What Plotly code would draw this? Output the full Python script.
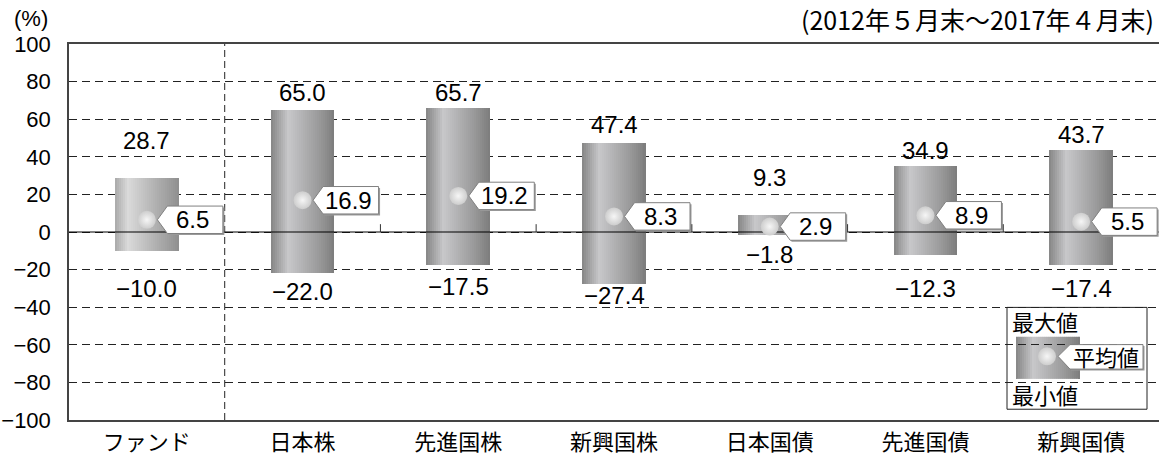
import plotly.graph_objects as go
import numpy as np

# ---------------- data ----------------
categories = ["ファンド", "日本株", "先進国株", "新興国株", "日本国債", "先進国債", "新興国債"]
max_vals = [28.7, 65.0, 65.7, 47.4, 9.3, 34.9, 43.7]
min_vals = [-10.0, -22.0, -17.5, -27.4, -1.8, -12.3, -17.4]
avg_vals = [6.5, 16.9, 19.2, 8.3, 2.9, 8.9, 5.5]
y_ticks = [-100, -80, -60, -40, -20, 0, 20, 40, 60, 80, 100]

# ---------------- style ----------------
W, H = 1159, 456
ML, MR, MT, MB = 69, 0, 44, 28
PW, PH = W - ML - MR, H - MT - MB
XR = [-0.5, 6.5]
YR = [-100, 100]
DX = (XR[1] - XR[0]) / PW      # data units per pixel (x)
DY = (YR[1] - YR[0]) / PH      # data units per pixel (y)

NUM_FONT = "Liberation Sans Narrow, Arial Narrow, Liberation Sans, sans-serif"
JP_FONT = "Noto Sans CJK JP, sans-serif"

BAR_W = 0.41
NSL = 32
# label pixel offsets (style only)
max_shift = [38, 17, 16, 18, 37, 16, 15]
min_shift = [38, 18, 22, 12, 19, 33, 24]

def interp_color(stops, t):
    for (t0, c0), (t1, c1) in zip(stops[:-1], stops[1:]):
        if t0 <= t <= t1:
            f = (t - t0) / (t1 - t0) if t1 > t0 else 0
            return tuple(int(round(a + (b - a) * f)) for a, b in zip(c0, c1))
    return stops[-1][1]

def hexrgb(h):
    h = h.lstrip("#")
    return tuple(int(h[i:i + 2], 16) for i in (0, 2, 4))

main_stops = [(0.0, hexrgb("#858585")), (0.27, hexrgb("#c8c8ca")), (0.75, hexrgb("#9a9a9a")), (1.0, hexrgb("#7c7c7c"))]
fund_stops = [(0.0, hexrgb("#a9a9a9")), (0.2, hexrgb("#dadada")), (0.75, hexrgb("#a6a6a6")), (1.0, hexrgb("#8f8f8f"))]

def rgb(c):
    return "rgb(%d,%d,%d)" % c

fig = go.Figure()
xs = list(range(len(categories)))
heights = [mx - mn for mx, mn in zip(max_vals, min_vals)]

# gradient bars built from thin slices
for j in range(NSL):
    t = (j + 0.5) / NSL
    cols = [rgb(interp_color(fund_stops if i == 0 else main_stops, t)) for i in xs]
    fig.add_trace(go.Bar(
        x=xs, y=heights, base=min_vals,
        width=BAR_W / NSL * 1.15 if j < NSL - 1 else BAR_W / NSL,
        offset=-BAR_W / 2 + j * BAR_W / NSL,
        marker=dict(color=cols, line=dict(width=0)),
        hoverinfo="skip", showlegend=False))

# zero line (above bars)
fig.add_trace(go.Scatter(x=XR, y=[0, 0], mode="lines",
                         line=dict(color="black", width=1.2),
                         hoverinfo="skip", showlegend=False))

# mean markers
fig.add_trace(go.Scatter(
    x=xs, y=avg_vals, mode="markers",
    marker=dict(size=18, color="#cdcdcd", line=dict(width=0),
                gradient=dict(type="radial", color="#f6f6f6")),
    hoverinfo="skip", showlegend=False, cliponaxis=False))

shapes = []
annotations = []

# callouts
for i, m in zip(xs, avg_vals):
    tip = i + 10.5 * DX
    base = i + 20.5 * DX
    right = i + 76 * DX
    hh = 14 * DY
    sx, sy = 1.5 * DX, 1.5 * DY
    spath = (f"M{tip + sx},{m - sy} L{base + sx},{m + hh - sy} L{right + sx},{m + hh - sy} "
             f"L{right + sx},{m - hh - sy} L{base + sx},{m - hh - sy} Z")
    shapes.append(dict(type="path", path=spath, xref="x", yref="y",
                       fillcolor="#9a9a9a", line=dict(width=0), layer="above"))
    path = (f"M{tip},{m} L{base},{m + hh} L{right},{m + hh} "
            f"L{right},{m - hh} L{base},{m - hh} Z")
    shapes.append(dict(type="path", path=path, xref="x", yref="y",
                       fillcolor="white", line=dict(color="#808080", width=1),
                       layer="above"))
    annotations.append(dict(x=i + 46 * DX, y=m, xref="x", yref="y",
                            text=f"{m:.1f}", showarrow=False,
                            font=dict(family=NUM_FONT, size=24, color="black"),
                            xanchor="center", yanchor="middle"))

# max / min labels
for i, mx, mn, s1, s2 in zip(xs, max_vals, min_vals, max_shift, min_shift):
    annotations.append(dict(x=i, y=mx, xref="x", yref="y", text=f"{mx:.1f}",
                            showarrow=False, yshift=s1, yanchor="middle",
                            font=dict(family=NUM_FONT, size=24, color="black")))
    annotations.append(dict(x=i, y=mn, xref="x", yref="y", text=f"{mn:.1f}".replace("-", "−"),
                            showarrow=False, yshift=-s2, yanchor="middle",
                            font=dict(family=NUM_FONT, size=24, color="black")))

# vertical dashed divider after fund
shapes.append(dict(type="line", x0=0.5, x1=0.5, y0=0, y1=1, xref="x", yref="paper",
                   line=dict(color="#222", width=1, dash="7px,4px"), layer="between"))
# small ticks on zero line at category boundaries
for b in [1.5, 2.5, 3.5, 4.5, 5.5]:
    shapes.append(dict(type="line", x0=b, x1=b, y0=0, y1=8 * DY, xref="x", yref="y",
                       line=dict(color="#333", width=1), layer="above"))

# ---------------- legend (pixel-positioned) ----------------
def px(xp):
    return (xp - ML) / PW
def py(yp):
    return 1 - (yp - MT) / PH

shapes.append(dict(type="rect", xref="paper", yref="paper",
                   x0=px(1007), x1=px(1147), y0=py(417), y1=py(313),
                   fillcolor="white", line=dict(color="#222", width=1), layer="between"))
LX0, LX1, LY0, LY1 = 1016, 1080, 343, 386
for j in range(NSL):
    t = (j + 0.5) / NSL
    a = LX0 + (LX1 - LX0) * j / NSL
    b = LX0 + (LX1 - LX0) * (j + 1.15) / NSL if j < NSL - 1 else LX1
    shapes.append(dict(type="rect", xref="paper", yref="paper",
                       x0=px(a), x1=px(b), y0=py(LY1), y1=py(LY0),
                       fillcolor=rgb(interp_color(main_stops, t)),
                       line=dict(width=0), layer="between"))
fig.add_trace(go.Scatter(
    x=[XR[0] + (1047 - ML) * DX], y=[YR[1] - (363 - MT) * DY], mode="markers",
    marker=dict(size=18, color="#cdcdcd", line=dict(width=0),
                gradient=dict(type="radial", color="#f6f6f6")),
    hoverinfo="skip", showlegend=False, cliponaxis=False))
lps = (f"M{px(1059.5)},{py(364.5)} L{px(1071.5)},{py(352.5)} L{px(1144.5)},{py(352.5)} "
       f"L{px(1144.5)},{py(377.5)} L{px(1071.5)},{py(377.5)} Z")
shapes.append(dict(type="path", path=lps, xref="paper", yref="paper",
                   fillcolor="#9a9a9a", line=dict(width=0), layer="above"))
lp = (f"M{px(1058)},{py(363)} L{px(1070)},{py(351)} L{px(1143)},{py(351)} "
      f"L{px(1143)},{py(376)} L{px(1070)},{py(376)} Z")
shapes.append(dict(type="path", path=lp, xref="paper", yref="paper",
                   fillcolor="white", line=dict(color="#808080", width=1), layer="above"))
annotations.append(dict(x=px(1106), y=py(363), xref="paper", yref="paper", text="平均値",
                        showarrow=False, font=dict(family=JP_FONT, size=22, color="black"),
                        xanchor="center", yanchor="middle"))
annotations.append(dict(x=px(1045), y=py(327), xref="paper", yref="paper", text="最大値",
                        showarrow=False, font=dict(family=JP_FONT, size=22, color="black"),
                        xanchor="center", yanchor="middle"))
annotations.append(dict(x=px(1045), y=py(401), xref="paper", yref="paper", text="最小値",
                        showarrow=False, font=dict(family=JP_FONT, size=22, color="black"),
                        xanchor="center", yanchor="middle"))

# titles
annotations.append(dict(x=px(12), y=py(18), xref="paper", yref="paper", text="(%)",
                        showarrow=False, xanchor="left", yanchor="middle",
                        font=dict(family=NUM_FONT, size=22, color="black")))
annotations.append(dict(x=px(1156), y=py(18), xref="paper", yref="paper",
                        text="(2012年５月末～2017年４月末)",
                        showarrow=False, xanchor="right", yanchor="middle",
                        font=dict(family=JP_FONT, size=25, color="black")))

fig.update_layout(
    width=W, height=H,
    margin=dict(l=ML, r=MR, t=MT, b=MB, pad=0),
    paper_bgcolor="white", plot_bgcolor="white",
    barmode="overlay", bargap=0,
    shapes=shapes, annotations=annotations,
    showlegend=False,
    xaxis=dict(range=XR, tickvals=xs, ticktext=categories, showgrid=False,
               zeroline=False, showline=True, mirror=True, linecolor="#444", linewidth=1.5,
               ticks="", ticklabelstandoff=2,
               tickfont=dict(family=JP_FONT, size=22, color="black"),
               fixedrange=True),
    yaxis=dict(range=YR, tickvals=y_ticks, showgrid=True, gridcolor="#222",
               griddash="8px,5px", gridwidth=1, zeroline=False,
               showline=True, linecolor="#444", linewidth=1.5, ticks="",
               ticklabelstandoff=12,
               tickfont=dict(family=NUM_FONT, size=22, color="black"),
               fixedrange=True),
)

fig.write_html("out.html")
